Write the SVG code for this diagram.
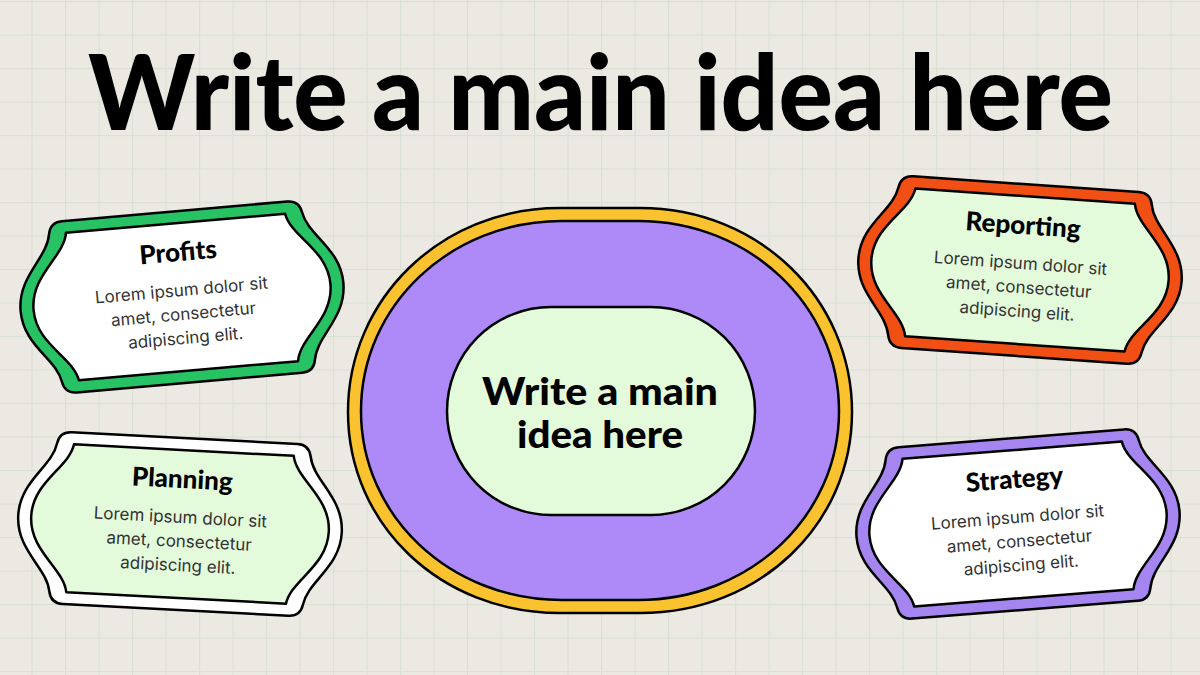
<svg xmlns="http://www.w3.org/2000/svg" xmlns:xlink="http://www.w3.org/1999/xlink" width="1200" height="675" viewBox="0 0 1200 675">
  <style>
    .title { font-family: Lato, "Liberation Sans", sans-serif; font-weight: 900; fill: #000; }
    .ctitle { font-family: Lato, "Liberation Sans", sans-serif; font-weight: 900; font-size: 26px; fill: #000; text-anchor: middle; }
    .body { font-family: Inter, "Liberation Sans", sans-serif; font-size: 17px; fill: #333; text-anchor: middle; }
    .ln { stroke: #000; stroke-width: 2.5; stroke-linejoin: round; }
  </style>
  <defs>
    <pattern id="grid" x="-2" y="1" width="33.5" height="33.5" patternUnits="userSpaceOnUse">
      <path d="M 0 0 L 33.5 0 M 0 0 L 0 33.5" fill="none" stroke="#d9e1d5" stroke-width="2.4"/>
    </pattern>
    <path id="outer" d="M -113,-86 L 113,-86 Q 125,-86 127,-74 C 131,-50 162,-35 162,0 C 162,35 131,50 127,74 Q 125,86 113,86 L -113,86 Q -125,86 -127,74 C -131,50 -162,35 -162,0 C -162,-35 -131,-50 -127,-74 Q -125,-86 -113,-86 Z"/>
    <path id="inner" d="M -110,-74 L 110,-74 C 114,-50 149,-35 149,0 C 149,35 114,50 110,74 L -110,74 C -114,50 -149,35 -149,0 C -149,-35 -114,-50 -110,-74 Z"/>
  </defs>

  <rect width="1200" height="675" fill="#ebe9e2"/>
  <rect width="1200" height="675" fill="url(#grid)"/>

  <text class="title" x="88" y="130" font-size="104" textLength="1025" lengthAdjust="spacingAndGlyphs">Write a main idea here</text>

  <g id="center-node">
    <path class="ln" fill="#f9c22e" d="M 560,208 L 640,208 C 760,208 852,300 852,412 C 852,524 760,613 640,613 L 560,613 C 440,613 348,524 348,412 C 348,300 440,208 560,208 Z"/>
    <path class="ln" fill="#ad8af7" d="M 562,221 L 638,221 C 750,221 839,306 839,411 C 839,516 750,600 638,600 L 562,600 C 450,600 361,516 361,411 C 361,306 450,221 562,221 Z"/>
    <rect class="ln" x="447" y="307" width="308" height="208" rx="104" ry="104" fill="#e3fadb"/>
    <text class="title" x="600" y="405" font-size="38" text-anchor="middle" textLength="236" lengthAdjust="spacingAndGlyphs">Write a main</text>
    <text class="title" x="600" y="448" font-size="38" text-anchor="middle" textLength="166" lengthAdjust="spacingAndGlyphs">idea here</text>
  </g>

  <g id="profits" transform="translate(182,297) rotate(-5)">
    <use href="#outer" class="ln" fill="#27c264"/>
    <use href="#inner" class="ln" fill="#ffffff"/>
    <text class="ctitle" x="0" y="-36">Profits</text>
    <text class="body" x="0" y="-1">Lorem ipsum dolor sit</text>
    <text class="body" x="0" y="23">amet, consectetur</text>
    <text class="body" x="0" y="47">adipiscing elit.</text>
  </g>

  <g id="planning" transform="translate(180,524) rotate(3)">
    <use href="#outer" class="ln" fill="#ffffff"/>
    <use href="#inner" class="ln" fill="#e3fadb"/>
    <text class="ctitle" x="0" y="-36">Planning</text>
    <text class="body" x="0" y="-1">Lorem ipsum dolor sit</text>
    <text class="body" x="0" y="23">amet, consectetur</text>
    <text class="body" x="0" y="47">adipiscing elit.</text>
  </g>

  <g id="reporting" transform="translate(1020,270) rotate(4)">
    <use href="#outer" class="ln" fill="#f24f14"/>
    <use href="#inner" class="ln" fill="#e3fadb"/>
    <text class="ctitle" x="0" y="-36">Reporting</text>
    <text class="body" x="0" y="-1">Lorem ipsum dolor sit</text>
    <text class="body" x="0" y="23">amet, consectetur</text>
    <text class="body" x="0" y="47">adipiscing elit.</text>
  </g>

  <g id="strategy" transform="translate(1018,524) rotate(-4.5)">
    <use href="#outer" class="ln" fill="#a586f1"/>
    <use href="#inner" class="ln" fill="#ffffff"/>
    <text class="ctitle" x="0" y="-36">Strategy</text>
    <text class="body" x="0" y="-1">Lorem ipsum dolor sit</text>
    <text class="body" x="0" y="23">amet, consectetur</text>
    <text class="body" x="0" y="47">adipiscing elit.</text>
  </g>

  <g id="connectors"/>
</svg>
